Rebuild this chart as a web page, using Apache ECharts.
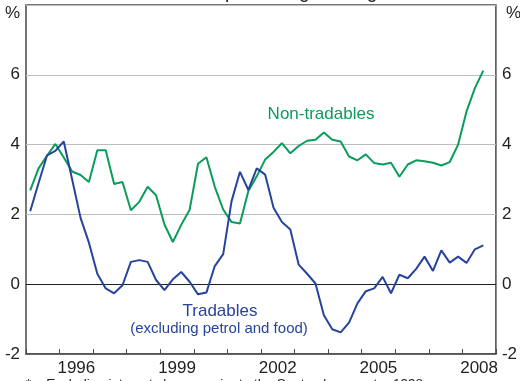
<!DOCTYPE html>
<html>
<head>
<meta charset="utf-8">
<script src="https://cdn.jsdelivr.net/npm/echarts@6/dist/echarts.min.js"></script>
<style>
  html, body { margin: 0; padding: 0; background: #fff; }
  #chart { width: 520px; height: 381px; }
</style>
</head>
<body>
<div id="chart"></div>
<script>
// Quarterly year-ended inflation, 1995 Q1 to 2008 Q3 (per cent)
const firstYear = 1995;
const tradables = [
  2.09, 2.90, 3.69, 3.82, 4.09, 3.00, 1.90, 1.19, 0.30, -0.12, -0.26, -0.03,
  0.64, 0.69, 0.64, 0.12, -0.17, 0.14, 0.35, 0.07, -0.29, -0.24, 0.52, 0.86,
  2.38, 3.22, 2.70, 3.32, 3.14, 2.19, 1.78, 1.57, 0.56, 0.30, 0.02, -0.89,
  -1.29, -1.38, -1.10, -0.55, -0.20, -0.12, 0.21, -0.26, 0.27, 0.17, 0.44, 0.79,
  0.38, 0.97, 0.62, 0.79, 0.61, 1.00, 1.11
];
const nonTradables = [
  2.69, 3.32, 3.68, 4.02, 3.63, 3.23, 3.13, 2.93, 3.84, 3.84, 2.87, 2.93,
  2.12, 2.36, 2.79, 2.55, 1.71, 1.21, 1.70, 2.13, 3.45, 3.64, 2.79, 2.14,
  1.78, 1.74, 2.67, 3.09, 3.57, 3.79, 4.04, 3.75, 3.96, 4.11, 4.14, 4.35,
  4.14, 4.09, 3.66, 3.55, 3.72, 3.47, 3.43, 3.48, 3.08, 3.43, 3.55, 3.52,
  3.48, 3.40, 3.50, 4.00, 4.95, 5.62, 6.12
];
const yearLabels = [1996, 1999, 2002, 2005, 2008];
const yTicks = [-2, 0, 2, 4, 6];

// each quarter is placed at its middle on a decimal-year axis
const quarterMid = tradables.map((_, i) => firstYear + Math.floor(i / 4) + ((i % 4) + 0.5) / 4);
const pairs = (vals) => vals.map((v, i) => [quarterMid[i], v]);

const GREEN = '#0a9c5c';
const BLUE = '#27449c';
const FONT = 'Liberation Sans, Arial, sans-serif';

const chart = echarts.init(document.getElementById('chart'), null, { renderer: 'canvas' });

chart.setOption({
  animation: false,
  backgroundColor: '#fff',
  grid: {
    left: 26, right: 20, top: 5, bottom: 27,
    show: true, borderColor: '#4a4a4a', borderWidth: 1.5, backgroundColor: 'transparent'
  },
  xAxis: [
    {
      type: 'value', min: 1995, max: 2009, interval: 1, position: 'bottom',
      axisLine: { show: true, onZero: false, lineStyle: { color: '#4a4a4a', width: 1.5 } },
      axisTick: { show: true, inside: true, length: 5, lineStyle: { color: '#4a4a4a', width: 1 } },
      axisLabel: { show: false },
      splitLine: { show: false }
    },
    {
      // year names sit in the middle of each year
      type: 'value', min: 1995, max: 2009, interval: 0.5, position: 'bottom',
      axisLine: { show: false }, axisTick: { show: false }, splitLine: { show: false },
      axisLabel: {
        show: true, margin: 6, color: '#222', fontFamily: FONT, fontSize: 17,
        showMinLabel: true, showMaxLabel: true,
        formatter: (v) => {
          const y = Math.floor(v);
          return (v - y === 0.5 && yearLabels.includes(y)) ? String(y) : '';
        }
      }
    }
  ],
  yAxis: [
    {
      type: 'value', min: -2, max: 8, interval: 2, position: 'left',
      axisLine: { show: false }, axisTick: { show: false },
      axisLabel: {
        margin: 6, color: '#222', fontFamily: FONT, fontSize: 17,
        formatter: (v) => yTicks.includes(v) ? String(v) : ''
      },
      splitLine: { show: true, lineStyle: { color: '#bdbdbd', width: 1 } }
    },
    {
      type: 'value', min: -2, max: 8, interval: 2, position: 'right',
      axisLine: { show: false }, axisTick: { show: false },
      axisLabel: {
        margin: 6, color: '#222', fontFamily: FONT, fontSize: 17,
        formatter: (v) => yTicks.includes(v) ? String(v) : ''
      },
      splitLine: { show: false }
    }
  ],
  series: [
    {
      name: 'Non-tradables', type: 'line', xAxisIndex: 0, yAxisIndex: 0,
      data: pairs(nonTradables), showSymbol: false, symbol: 'none',
      lineStyle: { color: GREEN, width: 2 }, z: 3
    },
    {
      name: 'Tradables', type: 'line', xAxisIndex: 0, yAxisIndex: 0,
      data: pairs(tradables), showSymbol: false, symbol: 'none',
      lineStyle: { color: BLUE, width: 2 }, z: 4,
      markLine: {
        silent: true, symbol: 'none', label: { show: false },
        lineStyle: { color: '#222', width: 1.2, type: 'solid' },
        data: [{ yAxis: 0 }], z: 2
      }
    }
  ],
  graphic: [
    { type: 'text', left: 5, top: 5, style: { text: '%', font: '17px ' + FONT, fill: '#222' } },
    { type: 'text', left: 506, top: 5, style: { text: '%', font: '17px ' + FONT, fill: '#222' } },
    {
      type: 'text', x: 255, y: 2,
      style: { text: 'Year-ended percentage change', font: '19px ' + FONT, fill: '#222', align: 'center', verticalAlign: 'bottom' }
    },
    {
      type: 'text', x: 321, y: 114,
      style: { text: 'Non-tradables', font: '17px ' + FONT, fill: GREEN, align: 'center', verticalAlign: 'middle' }
    },
    {
      type: 'text', x: 220, y: 311,
      style: { text: 'Tradables', font: '17px ' + FONT, fill: BLUE, align: 'center', verticalAlign: 'middle' }
    },
    {
      type: 'text', x: 219, y: 329,
      style: { text: '(excluding petrol and food)', font: '15px ' + FONT, fill: BLUE, align: 'center', verticalAlign: 'middle' }
    },
    {
      type: 'text', x: 26, y: 377,
      style: { text: '*    Excluding interest charges prior to the September quarter 1998', font: '13.5px ' + FONT, fill: '#222', align: 'left', verticalAlign: 'top' }
    }
  ]
});
</script>
</body>
</html>
